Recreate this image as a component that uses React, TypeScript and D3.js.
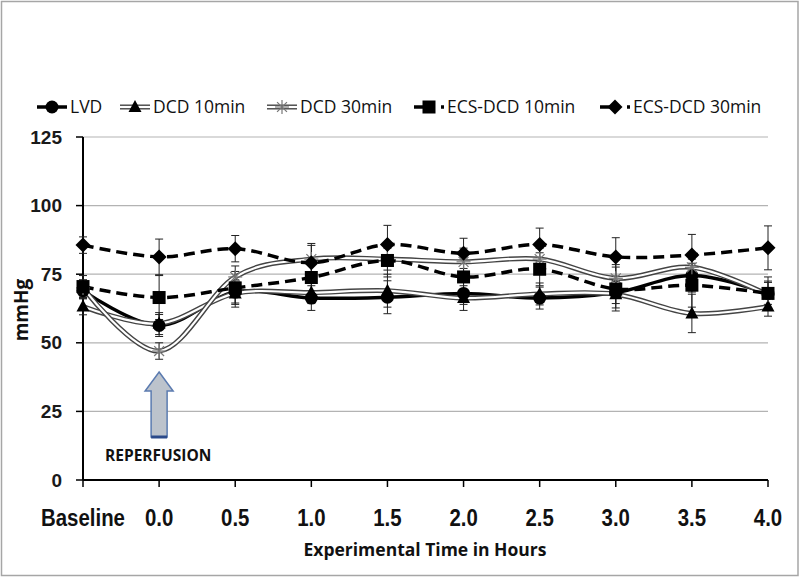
import React from "react";
import * as d3 from "d3";

const categories = ["Baseline", "0.0", "0.5", "1.0", "1.5", "2.0", "2.5", "3.0", "3.5", "4.0"];
const yTicks = [0, 25, 50, 75, 100, 125];

const lvd = [69, 56.3, 68.5, 66.3, 66.6, 68, 66.3, 68.3, 74.5, 68];
const lvdErr = [3, 4, 4, 4.5, 6, 4, 4, 4, 6, 4];
const dcd10 = [63.2, 57, 68, 68.3, 69, 66.3, 67.8, 67.7, 60.7, 63.2];
const dcd10Err = [3, 4, 5, 4, 6, 4.5, 4, 5, 7, 3.5];
const dcd30 = [70, 47, 74, 80.5, 80.5, 79.5, 80.5, 73.5, 77.5, 67.5];
const dcd30Err = [3, 3, 4, 5, 4, 5, 4, 5, 5, 5];
const ecs10 = [70.5, 66.5, 70, 73.8, 80, 74, 76.8, 69.6, 71, 68];
const ecs10Err = [4, 8, 6, 6, 6, 6, 6, 8, 8, 6];
const ecs30 = [85.6, 81.3, 84.3, 79.2, 85.8, 82.6, 85.8, 81.3, 82, 84.6];
const ecs30Err = [3, 6.5, 4.8, 7, 7, 5.5, 6, 7, 7.5, 8];

type Style = "solid" | "double" | "dashed";
type Marker = "circle" | "triangle" | "asterisk" | "square" | "diamond";

const series: { name: string; values: number[]; err: number[]; style: Style; marker: Marker }[] = [
  { name: "LVD", values: lvd, err: lvdErr, style: "solid", marker: "circle" },
  { name: "DCD 10min", values: dcd10, err: dcd10Err, style: "double", marker: "triangle" },
  { name: "DCD 30min", values: dcd30, err: dcd30Err, style: "double", marker: "asterisk" },
  { name: "ECS-DCD 10min", values: ecs10, err: ecs10Err, style: "dashed", marker: "square" },
  { name: "ECS-DCD 30min", values: ecs30, err: ecs30Err, style: "dashed", marker: "diamond" },
];

const W = 800;
const H = 578;
const x = d3.scalePoint<string>().domain(categories).range([83, 768]);
const y = d3.scaleLinear().domain([0, 125]).range([480, 137]);

const calibri = "'Open Sans', 'Noto Sans', sans-serif";
const arial = "'Liberation Sans', Arial, sans-serif";

function MarkerShape({ type, cx, cy }: { type: Marker; cx: number; cy: number }) {
  switch (type) {
    case "circle":
      return <circle cx={cx} cy={cy} r={6.5} fill="#000" />;
    case "triangle":
      return <path d={`M${cx},${cy - 7} L${cx + 6.5},${cy + 5} L${cx - 6.5},${cy + 5} Z`} fill="#000" />;
    case "square":
      return <rect x={cx - 6.5} y={cy - 6.5} width={13} height={13} fill="#000" />;
    case "diamond":
      return <path d={`M${cx},${cy - 7.5} L${cx + 7.5},${cy} L${cx},${cy + 7.5} L${cx - 7.5},${cy} Z`} fill="#000" />;
    case "asterisk": {
      const r = 7;
      const d = r * 0.707;
      return (
        <g stroke="#777" strokeWidth={1.2}>
          <line x1={cx - r} y1={cy} x2={cx + r} y2={cy} />
          <line x1={cx} y1={cy - r} x2={cx} y2={cy + r} />
          <line x1={cx - d} y1={cy - d} x2={cx + d} y2={cy + d} />
          <line x1={cx - d} y1={cy + d} x2={cx + d} y2={cy - d} />
        </g>
      );
    }
  }
  return null;
}

function StyledPath({ d, style }: { d: string; style: Style }) {
  if (style === "double") {
    return (
      <g fill="none">
        <path d={d} stroke="#444" strokeWidth={5} />
        <path d={d} stroke="#fff" strokeWidth={2.2} />
      </g>
    );
  }
  if (style === "dashed") {
    return <path d={d} fill="none" stroke="#000" strokeWidth={3.5} strokeDasharray="11,6" />;
  }
  return <path d={d} fill="none" stroke="#000" strokeWidth={3.5} />;
}

export default function App() {
  const line = d3
    .line<number>()
    .x((_, i) => x(categories[i]) as number)
    .y((v) => y(v))
    .curve(d3.curveCardinal.tension(0));

  const legendItems = [
    { lx: 37, tx: 70 },
    { lx: 120, tx: 153 },
    { lx: 267, tx: 300 },
    { lx: 414, tx: 447 },
    { lx: 600, tx: 633 },
  ];
  const legendY = 107;
  const ax = x("0.0") as number;

  return (
    <svg width={W} height={H} style={{ position: "absolute", left: 0, top: 0, background: "#fff" }}>
      <rect x={1.5} y={1.5} width={W - 3.5} height={H - 4} fill="#fff" stroke="#a6a6a6" strokeWidth={1.5} />

      {/* gridlines */}
      {yTicks.filter((t) => t > 0).map((t) => (
        <line key={t} x1={83} x2={768} y1={y(t)} y2={y(t)} stroke="#b3b3b3" strokeWidth={1.2} />
      ))}

      {/* axes */}
      <line x1={83} x2={83} y1={y(125)} y2={y(0)} stroke="#000" strokeWidth={2} />
      <line x1={83} x2={768} y1={y(0)} y2={y(0)} stroke="#000" strokeWidth={2} />
      {yTicks.map((t) => (
        <g key={t}>
          <line x1={76} x2={83} y1={y(t)} y2={y(t)} stroke="#000" strokeWidth={1.5} />
          <text x={62} y={y(t)} dy="0.35em" textAnchor="end" fontFamily={arial} fontWeight="bold" fontSize={19} fill="#1a1a1a">
            {t}
          </text>
        </g>
      ))}
      {categories.map((c) => (
        <g key={c}>
          <line x1={x(c)} x2={x(c)} y1={y(0)} y2={y(0) + 7} stroke="#000" strokeWidth={1.5} />
          <text
            transform={`translate(${x(c)},517) scale(0.85,1)`}
            dy="0.36em"
            textAnchor="middle"
            fontFamily={arial}
            fontWeight="bold"
            fontSize={24}
            fill="#111"
          >
            {c}
          </text>
        </g>
      ))}

      {/* axis titles */}
      <text transform={`translate(21,310) rotate(-90)`} textAnchor="middle" dy="0.35em" fontFamily={calibri} fontWeight="bold" fontSize={19} fill="#111">
        mmHg
      </text>
      <text x={425} y={550} dy="0.35em" textAnchor="middle" fontFamily={calibri} fontWeight="bold" fontSize={17.5} fill="#111">
        Experimental Time in Hours
      </text>

      {/* reperfusion arrow */}
      <path
        d={`M${ax},372 L${ax + 14},391 L${ax + 8},391 L${ax + 8},437 L${ax - 8},437 L${ax - 8},391 L${ax - 14},391 Z`}
        fill="#bcc3cc"
        stroke="#5b7bb0"
        strokeWidth={1.5}
      />
      <line x1={ax - 8} x2={ax + 8} y1={437} y2={437} stroke="#2b4a8a" strokeWidth={3} />
      <text x={105} y={456} dy="0.35em" fontFamily={calibri} fontWeight="bold" fontSize={15.5} fill="#111">
        REPERFUSION
      </text>

      {/* error bars */}
      {series.map((s) => (
        <g key={s.name + "err"} stroke="#222" strokeWidth={1}>
          {s.values.map((v, i) => {
            const cx = x(categories[i]) as number;
            const top = y(v + s.err[i]);
            const bot = y(v - s.err[i]);
            return (
              <g key={i}>
                <line x1={cx} x2={cx} y1={top} y2={bot} />
                <line x1={cx - 4} x2={cx + 4} y1={top} y2={top} />
                <line x1={cx - 4} x2={cx + 4} y1={bot} y2={bot} />
              </g>
            );
          })}
        </g>
      ))}

      {/* lines */}
      {series.map((s) => (
        <StyledPath key={s.name + "line"} d={line(s.values) as string} style={s.style} />
      ))}

      {/* markers */}
      {series.map((s) => (
        <g key={s.name + "m"}>
          {s.values.map((v, i) => (
            <MarkerShape key={i} type={s.marker} cx={x(categories[i]) as number} cy={y(v)} />
          ))}
        </g>
      ))}

      {/* legend */}
      {series.map((s, i) => {
        const it = legendItems[i];
        const x1 = it.lx;
        const x2 = it.tx - 3;
        const mid = (x1 + x2) / 2;
        return (
          <g key={s.name + "leg"}>
            {s.style === "dashed" ? (
              <g stroke="#000" strokeWidth={3.5}>
                <line x1={x1} x2={mid - 3} y1={legendY} y2={legendY} />
                <line x1={x2 - 3} x2={x2} y1={legendY} y2={legendY} />
              </g>
            ) : (
              <StyledPath d={`M${x1},${legendY} L${x2},${legendY}`} style={s.style} />
            )}
            <MarkerShape type={s.marker} cx={mid} cy={legendY} />
            <text x={it.tx} y={legendY} dy="0.35em" fontFamily={calibri} fontSize={17.5} fill="#111">
              {s.name}
            </text>
          </g>
        );
      })}
    </svg>
  );
}
